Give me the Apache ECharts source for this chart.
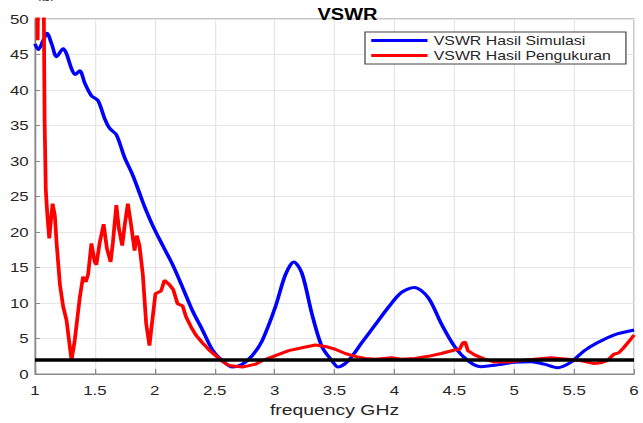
<!DOCTYPE html>
<html>
<head>
<meta charset="utf-8">
<script src="https://cdn.jsdelivr.net/npm/echarts@6/dist/echarts.min.js"></script>
<style>
html, body { margin: 0; padding: 0; background: #fff; overflow: hidden; }
/* the source figure is stretched sideways, so draw narrow and widen it */
#chart { width: 514.4px; height: 423px; transform: scaleX(1.25); transform-origin: 0 0; }
</style>
</head>
<body>
<div id="chart"></div>
<script>
// data
var seriesNames = ['VSWR Hasil Simulasi', 'VSWR Hasil Pengukuran'];
var xTicks = [1, 1.5, 2, 2.5, 3, 3.5, 4, 4.5, 5, 5.5, 6];
var yTicks = [0, 5, 10, 15, 20, 25, 30, 35, 40, 45, 50];
var refLevel = 2;

var simFreq = [1.0, 1.027, 1.069, 1.1, 1.139, 1.18, 1.235, 1.263, 1.305, 1.335, 1.374,
  1.415, 1.471, 1.526, 1.581, 1.623, 1.679, 1.748, 1.816, 1.872, 1.914,
  1.983, 2.066, 2.149, 2.232, 2.315, 2.398, 2.481, 2.564, 2.647, 2.73,
  2.813, 2.896, 3.007, 3.09, 3.16, 3.228, 3.311, 3.394, 3.478, 3.53,
  3.616, 3.727, 3.838, 3.949, 4.059, 4.165, 4.281, 4.391, 4.502, 4.613,
  4.72, 4.862, 5.0, 5.139, 5.25, 5.36, 5.471, 5.582, 5.693, 5.831, 6.0];
var simVswr = [46.5, 45.7, 47.0, 48.0, 46.5, 44.7, 45.8, 45.1, 43.0, 42.2, 42.7,
  41.0, 39.2, 38.5, 36.0, 34.6, 33.7, 30.5, 28.0, 25.5, 23.6,
  20.9, 18.1, 15.4, 12.2, 8.9, 6.2, 3.4, 1.9, 1.0, 1.4,
  2.6, 4.7, 9.5, 14.0, 15.8, 14.2, 8.5, 3.9, 1.9, 1.0,
  1.9, 4.4, 6.9, 9.4, 11.5, 12.2, 10.8, 7.1, 3.9, 1.9,
  1.05, 1.3, 1.65, 1.75, 1.4, 0.9, 1.65, 3.25, 4.4, 5.5, 6.2];

var measFreq = [1.012, 1.022, 1.03, 1.05, 1.072, 1.08, 1.09, 1.097, 1.105, 1.119,
  1.135, 1.147, 1.166, 1.18, 1.208, 1.235, 1.263, 1.305, 1.332, 1.374,
  1.401, 1.424, 1.443, 1.471, 1.498, 1.512, 1.54, 1.573, 1.6, 1.631,
  1.65, 1.679, 1.7, 1.728, 1.748, 1.775, 1.803, 1.831, 1.85, 1.872,
  1.9, 1.928, 1.955, 1.983, 2.005, 2.052, 2.08, 2.121, 2.154, 2.19,
  2.232, 2.26, 2.301, 2.343, 2.398, 2.453, 2.509, 2.564, 2.62, 2.675,
  2.73, 2.786, 2.841, 2.896, 3.007, 3.118, 3.228, 3.34, 3.423, 3.506,
  3.589, 3.672, 3.755, 3.838, 3.976, 4.059, 4.17, 4.281, 4.391, 4.502,
  4.544, 4.571, 4.591, 4.613, 4.669, 4.752, 4.835, 4.945, 5.056, 5.167,
  5.305, 5.444, 5.554, 5.665, 5.72, 5.776, 5.831, 5.872, 5.912, 5.967, 6.0];
var measVswr = [60, 47, 60, 62, 55, 36, 26, 24, 22, 19.1,
  22, 24, 22.3, 18.5, 12.6, 9.5, 7.6, 1.9, 4.8, 10.8,
  13.7, 13.0, 14.0, 18.4, 15.8, 15.4, 18.5, 21.1, 17.7, 15.8,
  18.5, 23.8, 20.5, 18.1, 20.9, 24.0, 20.9, 17.4, 19.5, 18.1,
  14.0, 7.1, 4.0, 8.1, 11.3, 11.7, 13.2, 12.6, 11.9, 9.9,
  9.6, 8.1, 6.7, 5.5, 4.4, 3.4, 2.6, 1.8, 1.2, 1.1,
  1.0, 1.2, 1.4, 1.9, 2.6, 3.3, 3.7, 4.1, 3.9, 3.5,
  2.9, 2.5, 2.2, 2.1, 2.3, 2.1, 2.2, 2.5, 2.9, 3.4,
  3.5, 4.4, 4.5, 3.3, 2.7, 2.1, 1.7, 1.7, 1.9, 2.1,
  2.3, 2.1, 1.9, 1.5, 1.6, 1.9, 2.8, 3.0, 3.7, 4.8, 5.5];

function zip(xs, ys) {
  var out = [];
  var n = Math.min(xs.length, ys.length);
  for (var i = 0; i < n; i++) out.push([xs[i], ys[i]]);
  return out;
}

var font = '"Liberation Sans", Arial, sans-serif';
var chart = echarts.init(document.getElementById('chart'), null, { renderer: 'svg' });
var option = {
  animation: false,
  title: {
    text: 'VSWR',
    left: 273,
    textAlign: 'center',
    top: 2,
    textStyle: { fontFamily: font, fontSize: 16, fontWeight: 'bold', color: '#000' }
  },
  graphic: [{
    type: 'text', left: 28, top: -14,
    style: { text: '(g),', font: '15px "Liberation Serif", serif', fill: '#000' }
  }],
  legend: {
    data: seriesNames,
    orient: 'vertical',
    left: 292,
    top: 32,
    padding: [2, 12, 2, 5],
    itemGap: 2,
    itemWidth: 45,
    itemHeight: 3,
    icon: 'rect',
    backgroundColor: '#fff',
    borderColor: '#444',
    borderWidth: 1,
    borderRadius: 0,
    textStyle: { fontFamily: font, fontSize: 12.7, color: '#262626' }
  },
  grid: {
    left: 28, right: 4, top: 19, bottom: 42,
    show: true, borderColor: '#8a8a8a', borderWidth: 1, backgroundColor: '#fff'
  },
  xAxis: {
    type: 'value',
    min: xTicks[0], max: xTicks[xTicks.length - 1], interval: 0.5,
    name: 'frequency GHz',
    nameLocation: 'middle',
    nameGap: 22,
    nameTextStyle: { fontFamily: font, fontSize: 15.5, color: '#262626' },
    axisLine: { show: true, lineStyle: { color: '#8a8a8a' } },
    axisTick: { show: true, inside: true, length: 5, lineStyle: { color: '#8a8a8a' } },
    axisLabel: { fontFamily: font, fontSize: 13.5, color: '#262626', margin: 9 },
    splitLine: { show: true, lineStyle: { color: '#e6e6e6' } }
  },
  yAxis: {
    type: 'value',
    min: yTicks[0], max: yTicks[yTicks.length - 1], interval: 5,
    axisLine: { show: true, lineStyle: { color: '#8a8a8a' } },
    axisTick: { show: true, inside: true, length: 4, lineStyle: { color: '#8a8a8a' } },
    axisLabel: { fontFamily: font, fontSize: 13.5, color: '#262626', margin: 5 },
    splitLine: { show: true, lineStyle: { color: '#e6e6e6' } }
  },
  series: [
    {
      name: seriesNames[0],
      type: 'line',
      data: zip(simFreq, simVswr),
      showSymbol: false,
      smooth: 0.3,
      clip: true,
      color: '#0000ff',
      lineStyle: { width: 3, color: '#0000ff' },
      z: 2
    },
    {
      name: seriesNames[1],
      type: 'line',
      data: zip(measFreq, measVswr),
      showSymbol: false,
      clip: true,
      color: '#ff0000',
      lineStyle: { width: 3, color: '#ff0000' },
      z: 3
    },
    {
      name: 'ref',
      type: 'line',
      data: [[xTicks[0], refLevel], [xTicks[xTicks.length - 1], refLevel]],
      showSymbol: false,
      clip: true,
      lineStyle: { width: 3.5, color: '#000' },
      z: 4
    }
  ]
};
chart.setOption(option);
</script>
</body>
</html>
